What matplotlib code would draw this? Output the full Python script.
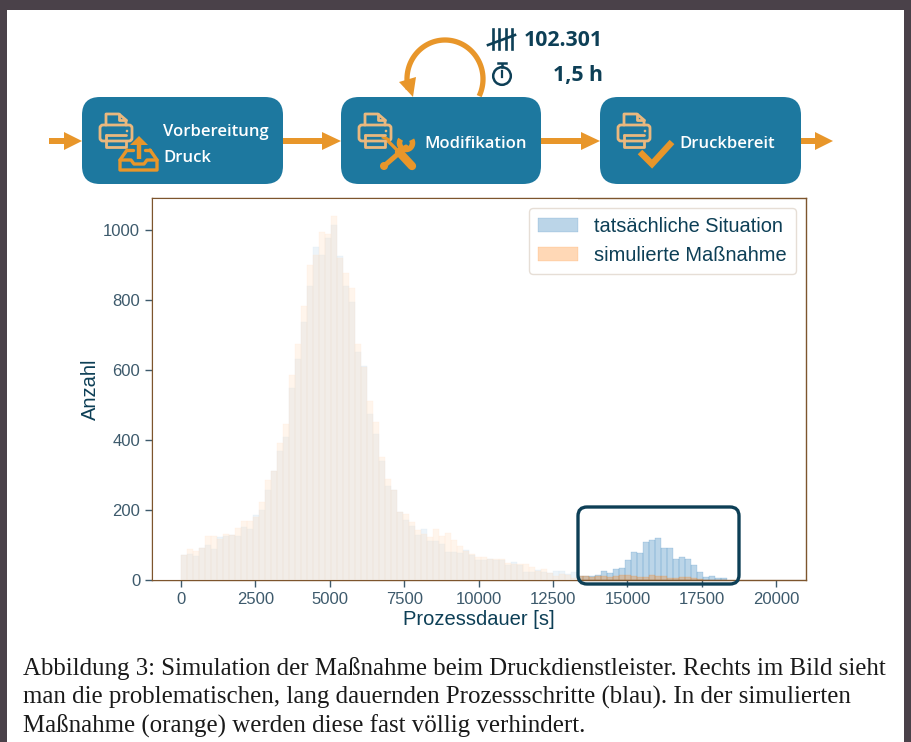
import numpy as np
import matplotlib
matplotlib.use("Agg")
import matplotlib.pyplot as plt
from matplotlib.patches import FancyBboxPatch, Rectangle, Polygon, Circle

# ---------- data ----------
bin_width = 201.6
actual = [71, 74, 69, 91, 100, 89, 123, 126, 129, 126, 151, 146, 186, 200, 257, 311, 369, 409,
          549, 631, 737, 840, 951, 929, 977, 1014, 926, 840, 794, 651, 611, 474, 417, 340, 269,
          257, 194, 171, 154, 129, 146, 111, 111, 103, 80, 80, 77, 86, 71, 57, 57, 59, 57, 57,
          43, 50, 43, 24, 24, 29, 24, 19, 26, 26, 16, 23, 10,
          11, 11, 14, 26, 20, 31, 34, 57, 80, 77, 109, 114, 120, 91, 91, 60, 66, 60, 43, 23, 9,
          11, 6, 6]
simulated = [71, 89, 83, 91, 126, 126, 117, 131, 129, 149, 169, 169, 180, 223, 286, 311, 391, 446,
             586, 674, 783, 900, 929, 994, 989, 1040, 920, 877, 834, 674, 609, 511, 451, 351, 289,
             257, 194, 189, 166, 143, 131, 123, 146, 126, 134, 114, 97, 83, 74, 65, 65, 59, 59, 59,
             48, 46, 46, 46, 36, 27, 31, 21, 10, 17, 15, 7, 11,
             11, 8, 10, 12, 8, 10, 14, 14, 11, 9, 9, 14, 10, 10, 6, 7, 8, 8, 6, 2, 1, 1, 0, 0]
series_labels = ["tatsächliche Situation", "simulierte Maßnahme"]
x_ticks = [0, 2500, 5000, 7500, 10000, 12500, 15000, 17500, 20000]
y_ticks = [0, 200, 400, 600, 800, 1000]
x_label = "Prozessdauer [s]"
y_label = "Anzahl"
caption = ["Abbildung 3: Simulation der Maßnahme beim Druckdienstleister. Rechts im Bild sieht",
           "man die problematischen, lang dauernden Prozessschritte (blau). In der simulierten",
           "Maßnahme (orange) werden diese fast völlig verhindert."]

# ---------- colours ----------
DARK = "#0d3f56"
TICK = "#3d5a6c"
BOX = "#1d789f"
ORANGE = "#e8962a"
LIGHT = "#eab87e"
SPINE = "#7d552d"
W, H = 911, 742

fig = plt.figure(figsize=(W / 100, H / 100), dpi=100, facecolor="#4a4149")
plt.rcParams["font.family"] = ["Liberation Sans", "DejaVu Sans"]

# page background in pixel coordinates
bg = fig.add_axes([0, 0, 1, 1], zorder=0)
bg.set_xlim(0, W); bg.set_ylim(H, 0); bg.axis("off")
bg.add_patch(Rectangle((7, 10), 897, H, fc="white", ec="none"))

# overlay in pixel coordinates for the process diagram
top = fig.add_axes([0, 0, 1, 1], zorder=2, facecolor="none")
top.set_xlim(0, W); top.set_ylim(H, 0); top.axis("off")

# ---------- histogram ----------
L, R, T, B = 152, 806, 198, 580
ax = fig.add_axes([L / W, 1 - B / H, (R - L) / W, (B - T) / H], zorder=1, facecolor="none")
n = len(actual)
edges = np.arange(n) * bin_width
ax.bar(edges, actual, width=bin_width, align="edge", color="#1f77b4", edgecolor="#1f77b4",
       linewidth=0.35, alpha=0.3, label=series_labels[0], zorder=2)
ax.bar(edges, simulated, width=bin_width, align="edge", color="#ff7f0e", edgecolor="#ff7f0e",
       linewidth=0.35, alpha=0.3, label=series_labels[1], zorder=2)
ax.set_xlim(-975, 21000)
ax.set_ylim(0, 1091)
ax.set_xticks(x_ticks)
ax.set_yticks(y_ticks)
ax.tick_params(colors=TICK, labelsize=12, length=5, width=1)
ax.set_xlabel(x_label, fontsize=14.5, color=DARK, labelpad=2)
ax.set_ylabel(y_label, fontsize=14.5, color=DARK, labelpad=2)
for s in ax.spines.values():
    s.set_color(SPINE); s.set_linewidth(1.0)
leg = ax.legend(loc="upper right", fontsize=14.4, frameon=True, edgecolor="#e6ded6",
                framealpha=1, labelcolor=DARK, borderaxespad=0, fancybox=True,
                bbox_to_anchor=((796 - L) / (R - L), (B - 208) / (B - T)), borderpad=0.45)
leg.get_frame().set_linewidth(1)
leg.set_zorder(6)
# whitening veil over the left part of the plot, below the legend
ax.add_patch(Rectangle((L + 1, T + 1), 578 - L - 1, B - T - 1.5, fc="white", ec="none", alpha=0.75,
                       transform=top.transData, zorder=4, clip_on=False))

top.add_patch(FancyBboxPatch((586, 515), 145, 61, boxstyle="round,pad=8,rounding_size=9",
                             fc="none", ec=DARK, lw=2.4))

# ---------- process boxes ----------
for x0, x1 in [(82, 283), (341, 541), (600, 801)]:
    top.add_patch(FancyBboxPatch((x0 + 18, 97 + 18), x1 - x0 - 36, 87 - 36,
                                 boxstyle="round,pad=18,rounding_size=18", fc=BOX, ec="none"))


def arrow(x0, x1, head=19, y=141):
    top.add_patch(Rectangle((x0, y - 2.6), x1 - x0 - head + 1, 5.2, fc=ORANGE, ec="none"))
    top.add_patch(Polygon([(x1 - head, y - 9), (x1, y), (x1 - head, y + 9)], fc=ORANGE, ec="none"))


arrow(49, 82, 18)
arrow(283, 341)
arrow(541, 600)
arrow(801, 833, 18)


def printer(x, y):
    kw = dict(color=LIGHT, lw=2.0, solid_capstyle="round", solid_joinstyle="round")
    top.plot([x + 7, x + 7, x + 20, x + 27, x + 27], [y + 12, y + 1, y + 1, y + 7, y + 12], **kw)
    top.plot([x + 20, x + 20, x + 27], [y + 1, y + 7, y + 7], **kw)
    top.add_patch(FancyBboxPatch((x + 4, y + 15), 26, 10, boxstyle="round,pad=3,rounding_size=3",
                                 fc="none", ec=LIGHT, lw=2.0))
    top.plot([x + 7, x + 7, x + 27, x + 27], [y + 22, y + 34, y + 34, y + 28], **kw)
    top.plot([x + 7, x + 27], [y + 22, y + 22], **kw)
    top.add_patch(Circle((x + 28, y + 18), 1.3, fc=LIGHT, ec="none"))


printer(99, 113)
printer(358, 113)
printer(617, 113)

# tray icon
t = dict(color=ORANGE, lw=2.4, solid_joinstyle="round", solid_capstyle="round")
top.plot([127, 120, 120, 157, 157, 150], [150, 160, 170, 170, 160, 150], **t)
top.plot([120, 131, 134, 144, 147, 157], [160, 160, 164, 164, 160, 160], **t)
top.plot([127, 133], [150, 150], **t)
top.plot([145, 150], [150, 150], **t)
top.plot([139, 139], [144, 159], color=ORANGE, lw=3.2, solid_capstyle="butt")
top.add_patch(Polygon([(130, 145), (139, 136), (148, 145)], fc=ORANGE, ec="none"))

# tools icon
top.add_patch(Polygon([(381, 138), (384, 135), (390, 139), (390, 142)], fc=ORANGE, ec="none"))
top.plot([389, 400], [142, 153], color=ORANGE, lw=2.4)
top.plot([399, 412], [152, 166], color=ORANGE, lw=6, solid_capstyle="round")
top.plot([384, 406], [166, 147], color=ORANGE, lw=3.6, solid_capstyle="round")
top.add_patch(Circle((384, 166), 4, fc=ORANGE, ec="none"))
th = np.radians(np.linspace(-30, 215, 40))
top.plot(406 + 6.5 * np.cos(th), 143 + 6.5 * np.sin(th), color=ORANGE, lw=4, solid_capstyle="butt")

# check icon
top.plot([640, 652, 672], [152, 164, 142], color=ORANGE, lw=4.6, solid_capstyle="butt",
         solid_joinstyle="miter")

# loop arrow
ang = np.radians(np.linspace(-26, 195, 80))
top.plot(445 + 38 * np.cos(ang), 79 - 39 * np.sin(ang), color=ORANGE, lw=3.8, solid_capstyle="butt")
top.add_patch(Polygon([(399, 82), (416, 77), (413, 97)], fc=ORANGE, ec="none"))

# tally and stopwatch
for xx in (493, 499, 506, 512):
    top.plot([xx, xx], [29, 49], color=DARK, lw=1.9)
top.plot([488, 515], [45, 35], color=DARK, lw=1.9)
top.add_patch(Circle((502, 76), 8.8, fc="none", ec=DARK, lw=1.8))
top.plot([502, 502], [64, 67], color=DARK, lw=1.8)
top.plot([498, 506], [63, 63], color=DARK, lw=1.8)
top.plot([502, 502], [71, 77], color=DARK, lw=1.6)

# texts
bk = dict(family=["Open Sans", "DejaVu Sans"], weight="semibold", color="white", fontsize=12, va="center")
top.text(163, 131.5, "Vorbereitung", ha="left", **bk)
top.text(163, 157.5, "Druck", ha="left", **bk)
top.text(424.5, 144.5, "Modifikation", ha="left", **bk)
top.text(679, 144.5, "Druckbereit", ha="left", **bk)
st = dict(family=["Open Sans", "DejaVu Sans"], weight="bold", color=DARK, fontsize=15.3, va="center", ha="right")
top.text(603, 40, "102.301", **st)
top.text(603, 76, "1,5 h", **st)

# caption
for yy, line in zip((669, 697, 726), caption):
    top.text(23, yy, line, family=["Liberation Serif", "DejaVu Serif"], fontsize=17.95, color="#1a1a1a",
             va="center", ha="left")

fig.savefig("out.png", dpi=100, facecolor=fig.get_facecolor())
